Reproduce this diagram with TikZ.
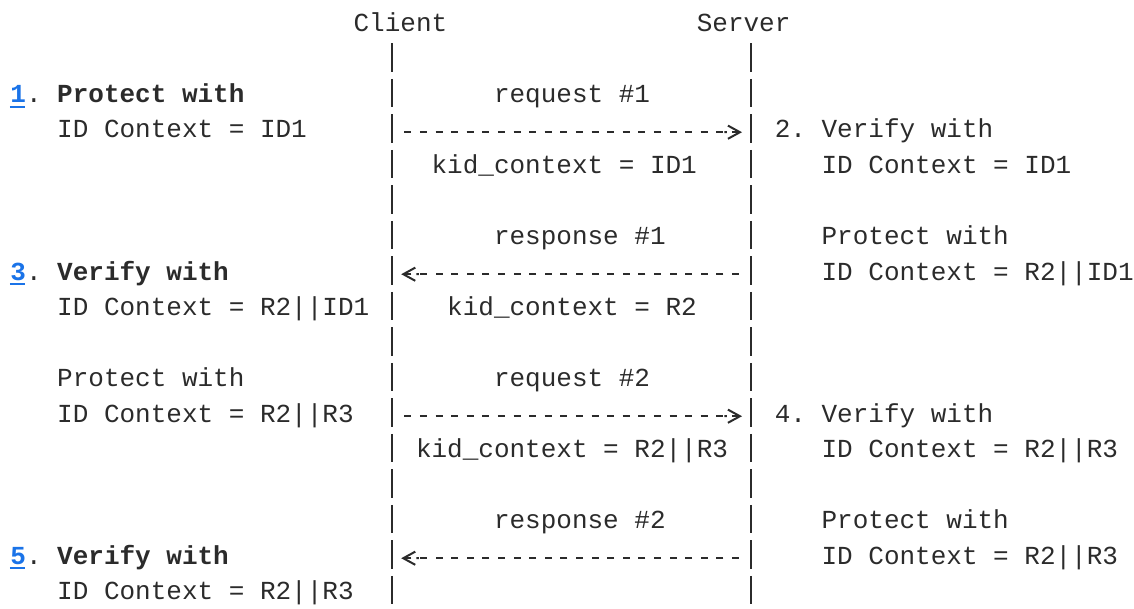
\documentclass[tikz,border=0pt]{standalone}
\usepackage{fontspec}
\setmonofont{Liberation Mono}
\usetikzlibrary{arrows.meta}
\definecolor{ink}{HTML}{2B2B2B}
\definecolor{linkblue}{HTML}{1A73E8}
\tikzset{
  txt/.style={anchor=base west, inner sep=0pt, text=ink, font=\ttfamily\fontsize{13pt}{13pt}\selectfont\frenchspacing},
  lifeline/.style={draw=ink, line width=1pt, dash pattern=on 14.2pt off 3.55pt},
  msg/.style={draw=ink, line width=1pt, dash pattern=on 3.5pt off 4.3pt, shorten <=6.05pt, shorten >=4.5pt, -{Butt Cap[] Straight Barb[length=6pt,width=6.6pt]}},
  linkline/.style={draw=linkblue, line width=1pt},
}
\begin{document}
\begin{tikzpicture}[x=7.8pt,y=-17.75pt]
\useasboundingbox (-0.641,-0.704) rectangle (72.05,16.423);
\node[txt] (client) at (22,0.183) {Client}; \node[txt] (server) at (44,0.183) {Server};
\coordinate (ctop) at (24.5,0.515); \coordinate (cend) at (24.5,16.316);
\coordinate (stop) at (47.5,0.515); \coordinate (send) at (47.5,16.316);
\draw[lifeline] (ctop) -- (cend); \draw[lifeline] (stop) -- (send);
\foreach \r in {3,7,11,15} { \coordinate (c\r) at (24.5,\r+0.02); \coordinate (s\r) at (47.5,\r+0.02); };
\foreach \a/\b in {c3/s3, s7/c7, c11/s11, s15/c15} { \draw[msg] (\a) -- (\b); };
\foreach \r/\n/\t in {2/1/Protect with, 7/3/Verify with, 15/5/Verify with} {
  \node[txt] (step\n) at (0,\r+0.183) {\textcolor{linkblue}{\bfseries\n}. \textbf{\t}};
  \draw[linkline] ([yshift=-2.2pt]step\n.base west) -- ++(7.5pt,0); };
\foreach \r/\t in {3/ID Context = ID1, 8/ID Context = R2||ID1, 10/Protect with, 11/ID Context = R2||R3, 16/ID Context = R2||R3} { \node[txt] (l\r) at (3,\r+0.183) {\t}; };
\foreach \r/\c/\t in {2/31/request \#1, 4/27/kid\_context = ID1, 6/31/response \#1, 8/28/kid\_context = R2, 10/31/request \#2, 12/26/kid\_context = R2||R3, 14/31/response \#2} { \node[txt] (m\r) at (\c,\r+0.183) {\t}; };
\foreach \r/\c/\t in {3/49/2. Verify with, 4/52/ID Context = ID1, 6/52/Protect with, 7/52/ID Context = R2||ID1, 11/49/4. Verify with, 12/52/ID Context = R2||R3, 14/52/Protect with, 15/52/ID Context = R2||R3} { \node[txt] (r\r) at (\c,\r+0.183) {\t}; };
\end{tikzpicture}
\end{document}
